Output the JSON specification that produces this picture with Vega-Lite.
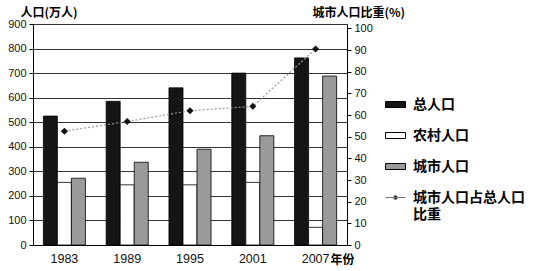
{
  "$schema": "https://vega.github.io/schema/vega-lite/v6.json",
  "width": 314,
  "height": 221,
  "autosize": "none",
  "padding": {"left": 33, "top": 24, "right": 188, "bottom": 26},
  "background": "white",
  "config": {
    "view": {"stroke": null},
    "font": "Liberation Sans"
  },
  "datasets": {
    "bars": [
      {"year": "1983", "series": "总人口", "value": 525},
      {"year": "1983", "series": "农村人口", "value": 255},
      {"year": "1983", "series": "城市人口", "value": 272},
      {"year": "1989", "series": "总人口", "value": 585},
      {"year": "1989", "series": "农村人口", "value": 245},
      {"year": "1989", "series": "城市人口", "value": 337},
      {"year": "1995", "series": "总人口", "value": 640},
      {"year": "1995", "series": "农村人口", "value": 245},
      {"year": "1995", "series": "城市人口", "value": 390},
      {"year": "2001", "series": "总人口", "value": 700},
      {"year": "2001", "series": "农村人口", "value": 255},
      {"year": "2001", "series": "城市人口", "value": 445},
      {"year": "2007", "series": "总人口", "value": 762},
      {"year": "2007", "series": "农村人口", "value": 72},
      {"year": "2007", "series": "城市人口", "value": 688}
    ],
    "ratio": [
      {"year": "1983", "ratio": 52.5},
      {"year": "1989", "ratio": 57},
      {"year": "1995", "ratio": 62},
      {"year": "2001", "ratio": 64},
      {"year": "2007", "ratio": 90.5}
    ]
  },
  "layer": [
    {
      "data": {"name": "bars"},
      "mark": {"type": "bar", "stroke": "#000", "strokeWidth": 0.8},
      "encoding": {
        "x": {
          "field": "year",
          "type": "nominal",
          "scale": {"paddingInner": 0.33, "paddingOuter": 0.165},
          "axis": {
            "title": "年份",
            "titleFont": "Noto Sans CJK SC",
            "titleFontWeight": "bold",
            "titleFontSize": 12,
            "titleAngle": 0,
            "titleAlign": "left",
            "titleBaseline": "middle",
            "titleX": 297,
            "titleY": 14,
            "labelAngle": 0,
            "labelFontSize": 12.5,
            "labelColor": "#111",
            "labelPadding": 7,
            "labelDx": -6,
            "ticks": false,
            "domainColor": "#000",
            "domainWidth": 1
          }
        },
        "xOffset": {
          "field": "series",
          "type": "nominal",
          "sort": ["总人口", "农村人口", "城市人口"],
          "scale": {"paddingInner": 0, "paddingOuter": 0}
        },
        "y": {
          "field": "value",
          "type": "quantitative",
          "scale": {"domain": [0, 900], "nice": false},
          "axis": {
            "values": [0, 100, 200, 300, 400, 500, 600, 700, 800, 900],
            "title": "人口(万人)",
            "titleFont": "Noto Sans CJK SC",
            "titleFontWeight": "bold",
            "titleFontSize": 12,
            "titleAngle": 0,
            "titleAlign": "left",
            "titleBaseline": "middle",
            "titleX": -13,
            "titleY": -12,
            "labelFontSize": 11,
            "labelColor": "#111",
            "labelPadding": 3,
            "tickSize": 4,
            "tickColor": "#000",
            "domainColor": "#000",
            "grid": true,
            "gridColor": "#333",
            "gridWidth": 1
          }
        },
        "color": {
          "field": "series",
          "type": "nominal",
          "scale": {
            "domain": ["总人口", "农村人口", "城市人口", "城市人口占总人口比重"],
            "range": ["#151515", "#ffffff", "#9a9a9a", "#111111"]
          },
          "legend": {
            "title": null,
            "orient": "none",
            "legendX": 352,
            "legendY": 70,
            "padding": 0,
            "symbolSize": 400,
            "symbolStrokeColor": "#000",
            "symbolStrokeWidth": 1,
            "labelFont": "Noto Sans CJK SC",
            "labelFontWeight": "bold",
            "labelFontSize": 14,
            "labelColor": "#000",
            "labelOffset": 7,
            "labelLimit": 200,
            "rowPadding": 13,
            "labelExpr": "datum.label === '城市人口占总人口比重' ? ['城市人口占总人口', '比重'] : datum.label",
            "encode": {
              "symbols": {
                "update": {
                  "shape": {"signal": "datum.value === '城市人口占总人口比重' ? 'M-1,0H1M-0.25,0L0,-0.25L0.25,0L0,0.25Z' : 'M-1,-0.3H1V0.3H-1Z'"},
                  "stroke": {"signal": "datum.value === '城市人口占总人口比重' ? '#777' : '#000'"}
                }
              },
              "labels": {
                "update": {
                  "lineHeight": {"value": 17}
                }
              }
            }
          }
        }
      }
    },
    {
      "data": {"name": "ratio"},
      "mark": {
        "type": "line",
        "stroke": "#999",
        "strokeWidth": 1.2,
        "strokeDash": [2, 2],
        "point": {"filled": true, "fill": "#111", "shape": "diamond", "size": 50}
      },
      "encoding": {
        "x": {"field": "year", "type": "nominal"},
        "y": {
          "field": "ratio",
          "type": "quantitative",
          "scale": {"domain": [0, 102], "nice": false},
          "axis": {
            "orient": "right",
            "values": [0, 10, 20, 30, 40, 50, 60, 70, 80, 90, 100],
            "title": "城市人口比重(%)",
            "titleFont": "Noto Sans CJK SC",
            "titleFontWeight": "bold",
            "titleFontSize": 12,
            "titleAngle": 0,
            "titleAlign": "left",
            "titleBaseline": "middle",
            "titleX": -35,
            "titleY": -12,
            "labelFontSize": 11,
            "labelColor": "#111",
            "labelPadding": 3,
            "tickSize": 4,
            "tickColor": "#000",
            "domainColor": "#000",
            "grid": false
          }
        }
      }
    }
  ],
  "resolve": {"scale": {"y": "independent"}}
}
